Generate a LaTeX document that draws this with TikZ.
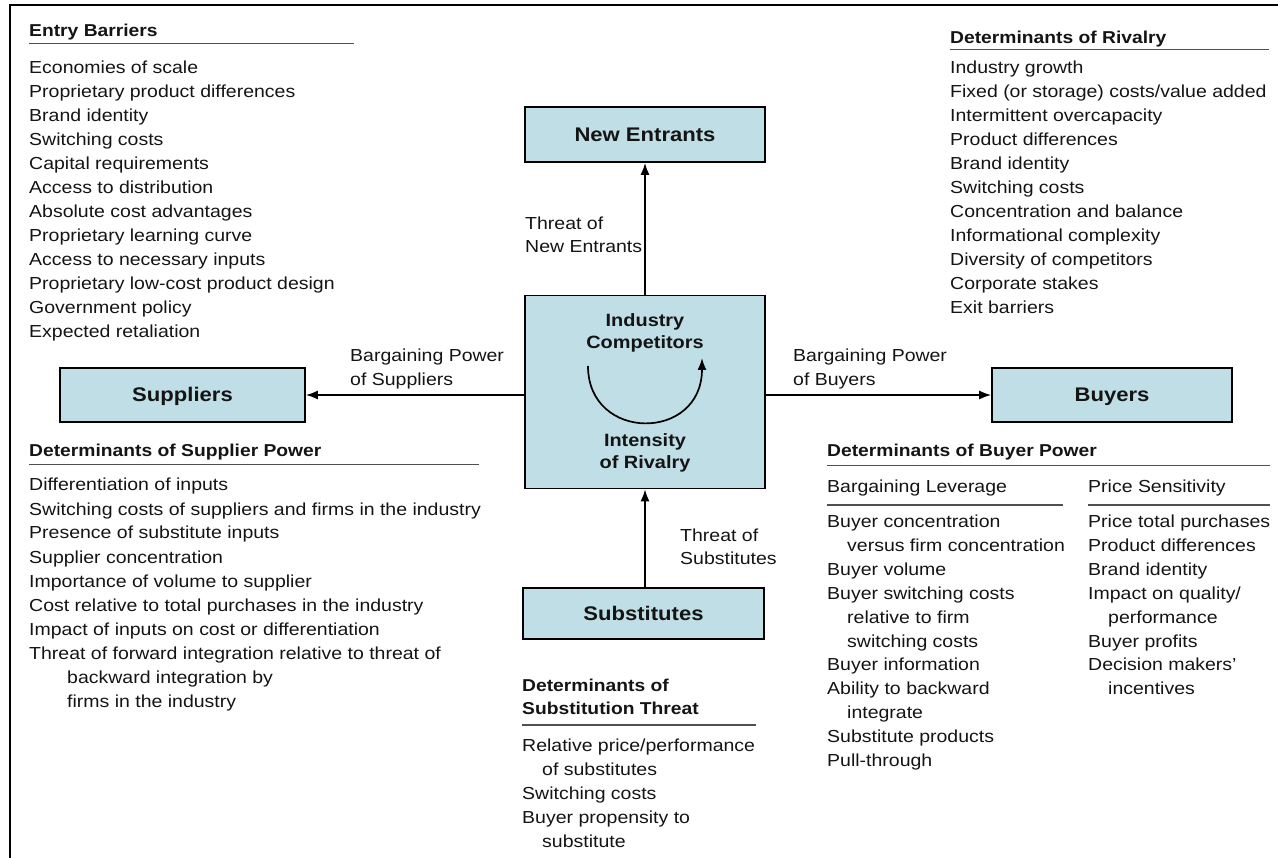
\documentclass[tikz,border=0pt]{standalone}
\usepackage{fontspec}
\setmainfont{Liberation Sans}[FakeStretch=1.12]
\usetikzlibrary{arrows.meta}
\definecolor{boxc}{RGB}{192,222,229}
\definecolor{tc}{RGB}{20,20,20}
\definecolor{lc}{RGB}{80,80,80}
\tikzset{
  txt/.style={font=\fontsize{17.4}{24}\selectfont, inner sep=0pt, anchor=base west, text=tc},
  hdr/.style={txt, font=\fontsize{17.2}{24}\selectfont\bfseries},
  ctxt/.style={font=\fontsize{17.8}{24}\selectfont\bfseries, inner sep=0pt, anchor=base, text=tc},
  box/.style={draw=black, line width=1.7pt, fill=boxc, minimum width=240pt, minimum height=55pt, inner sep=0pt},
  boxlbl/.style={font=\fontsize{19.7}{24}\selectfont\bfseries, inner sep=0pt, anchor=base, text=tc},
  uline/.style={draw=lc, line width=1.4pt},
  conn/.style={draw=black, line width=1.7pt, -{Latex[length=12pt,width=9pt]}},
}
\begin{document}
\begin{tikzpicture}[x=1pt,y=-1pt]
\useasboundingbox (0,0) rectangle (1278,858);
% frame
\coordinate (fb) at (10,858);
\coordinate (fc) at (10,5);
\coordinate (fr) at (1278,5);
\draw[line width=2pt] (fb) -- (fc) -- (fr);

% boxes
\node[box] (ne) at (645,134.5) {};
\node[boxlbl] (nel) at (645,141.5) {New Entrants};
\node[box, minimum height=193pt] (ic) at (645,392) {};
\node[box, minimum width=245pt, minimum height=54pt] (sup) at (182.5,395) {};
\node[boxlbl] (supl) at (182.5,402) {Suppliers};
\node[box, minimum height=54pt] (buy) at (1112,395) {};
\node[boxlbl] (buyl) at (1112,402) {Buyers};
\node[box, minimum width=241pt, minimum height=51pt] (sub) at (643.5,613.5) {};
\node[boxlbl] (subl) at (643.5,620.5) {Substitutes};

% center text
\node[ctxt] (ic1) at (645,327) {Industry};
\node[ctxt] (ic2) at (645,349) {Competitors};
\node[ctxt] (ic3) at (645,447) {Intensity};
\node[ctxt] (ic4) at (645,469) {of Rivalry};
\coordinate (ra) at (588,366);
\coordinate (rb) at (702,358);
\draw[conn] (ra) .. controls (588,442) and (702,442) .. (rb);

% connectors
\draw[conn] (ic.north) -- (ne.south);
\draw[conn] (ic.west |- sup.east) -- (sup.east);
\draw[conn] (ic.east |- buy.west) -- (buy.west);
\draw[conn] (sub.north -| ic.south) -- (ic.south);

% connector labels
\node[txt] (tn1) at (525,230) {Threat of};
\node[txt] (tn2) at (525,253) {New Entrants};
\node[txt] (bs1) at (350,362) {Bargaining Power};
\node[txt] (bs2) at (350,386) {of Suppliers};
\node[txt] (bb1) at (793,362) {Bargaining Power};
\node[txt] (bb2) at (793,386) {of Buyers};
\node[txt] (ts1) at (680,541) {Threat of};
\node[txt] (ts2) at (680,565) {Substitutes};

% Entry barriers
\node[hdr] (ebh) at (29,37) {Entry Barriers};
\draw[uline] (29,43.5) -- (354,43.5);
\foreach \t [count=\i from 0] in {Economies of scale, Proprietary product differences, Brand identity, Switching costs, Capital requirements, Access to distribution, Absolute cost advantages, Proprietary learning curve, Access to necessary inputs, Proprietary low-cost product design, Government policy, Expected retaliation}
  \node[txt] (eb\i) at (29,74+24*\i) {\t};

% Rivalry
\node[hdr] (rvh) at (950,44) {Determinants of Rivalry};
\draw[uline] (950,49.5) -- (1269,49.5);
\foreach \t [count=\i from 0] in {Industry growth, Fixed (or storage) costs/value added, Intermittent overcapacity, Product differences, Brand identity, Switching costs, Concentration and balance, Informational complexity, Diversity of competitors, Corporate stakes, Exit barriers}
  \node[txt] (rv\i) at (950,74+24*\i) {\t};

% Supplier power
\node[hdr] (sph) at (29,457) {Determinants of Supplier Power};
\draw[uline] (29,464.5) -- (479,464.5);
\foreach \t [count=\i from 0] in {Differentiation of inputs, Switching costs of suppliers and firms in the industry, Presence of substitute inputs, Supplier concentration, Importance of volume to supplier, Cost relative to total purchases in the industry, Impact of inputs on cost or differentiation, Threat of forward integration relative to threat of, {\hspace*{38pt}backward integration by}, {\hspace*{38pt}firms in the industry}}
  \node[txt] (sp\i) at (29,491+24*\i) {\t};

% Substitution threat
\node[hdr] (sth1) at (522,691) {Determinants of};
\node[hdr] (sth2) at (522,714) {Substitution Threat};
\draw[uline] (522,725) -- (756,725);
\foreach \t [count=\i from 0] in {Relative price/performance, {\hspace*{20pt}of substitutes}, Switching costs, Buyer propensity to, {\hspace*{20pt}substitute}}
  \node[txt] (st\i) at (522,751+24*\i) {\t};

% Buyer power
\node[hdr] (bph) at (827,457) {Determinants of Buyer Power};
\draw[uline] (827,465.5) -- (1270,465.5);
\node[txt] (blh) at (827,493) {Bargaining Leverage};
\draw[uline] (827,505) -- (1063,505);
\node[txt] (psh) at (1088,493) {Price Sensitivity};
\draw[uline] (1088,505) -- (1270,505);
\foreach \t [count=\i from 0] in {Buyer concentration, {\hspace*{20pt}versus firm concentration}, Buyer volume, Buyer switching costs, {\hspace*{20pt}relative to firm}, {\hspace*{20pt}switching costs}, Buyer information, Ability to backward, {\hspace*{20pt}integrate}, Substitute products, Pull-through}
  \node[txt] (bl\i) at (827,528+23.8*\i) {\t};
\foreach \t [count=\i from 0] in {Price total purchases, Product differences, Brand identity, Impact on quality/, {\hspace*{20pt}performance}, Buyer profits, Decision makers', {\hspace*{20pt}incentives}}
  \node[txt] (ps\i) at (1088,528+23.8*\i) {\t};
\end{tikzpicture}
\end{document}
